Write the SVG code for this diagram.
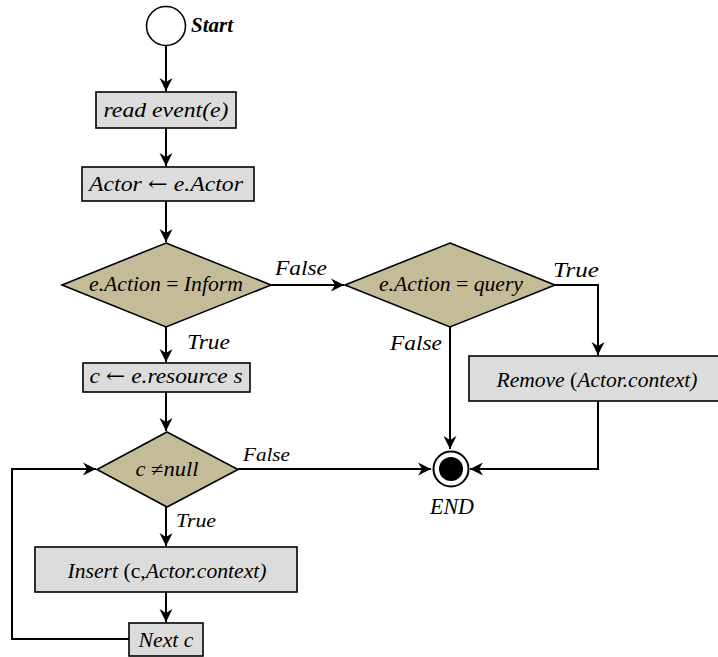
<svg xmlns="http://www.w3.org/2000/svg" width="718" height="657" viewBox="0 0 718 657">
<defs>
<marker id="arr" markerUnits="userSpaceOnUse" markerWidth="16" markerHeight="14" viewBox="-14 -7 16 14" refX="0" refY="0" orient="auto">
<path d="M-13,-6.5 L0,0 L-13,6.5 L-9,0 Z" fill="#000"/>
</marker>
</defs>
<style>
.t{font-family:"Liberation Serif","Times New Roman","DejaVu Serif",serif;font-style:italic;fill:#000}
.c{text-anchor:middle}
.rect{fill:#DCDCDC;stroke:#000;stroke-width:1.6}
.dia{fill:#C4BC98;stroke:#000;stroke-width:1.6}
.ln{fill:none;stroke:#000;stroke-width:2}
.ar{marker-end:url(#arr)}
.up{font-style:normal}
.sym{font-style:normal;font-family:"DejaVu Serif",serif}
</style>
<rect width="718" height="657" fill="#fff"/>
<g id="connectors">
<path class="ln ar" d="M166,46 V91"/>
<path class="ln ar" d="M166,128 V166"/>
<path class="ln ar" d="M166,201 V242"/>
<path class="ln ar" d="M271,285 H344"/>
<path class="ln ar" d="M166,327 V362"/>
<path class="ln ar" d="M166,392 V431"/>
<path class="ln ar" d="M555,285 H598 V355"/>
<path class="ln ar" d="M450,327 V449"/>
<path class="ln ar" d="M598,401 V469 H470"/>
<path class="ln ar" d="M238,469 H431"/>
<path class="ln ar" d="M166,507 V546"/>
<path class="ln ar" d="M166,592 V622"/>
<path class="ln ar" d="M129,639 H12 V469 H96"/>
</g>
<g id="start">
<circle cx="166" cy="26" r="19.5" fill="#fff" stroke="#000" stroke-width="1.6"/>
<text class="t" x="191" y="32" font-size="21" font-weight="bold" textLength="42" lengthAdjust="spacingAndGlyphs">Start</text>
</g>
<g id="read">
<rect class="rect" x="96" y="92" width="140" height="36"/>
<text class="t c" x="166" y="117" font-size="21" textLength="125" lengthAdjust="spacingAndGlyphs">read event(e)</text>
</g>
<g id="actor">
<rect class="rect" x="82" y="167" width="172" height="34"/>
<text class="t c" x="166" y="191" font-size="21" textLength="154" lengthAdjust="spacingAndGlyphs">Actor <tspan class="sym">←</tspan> e.Actor</text>
</g>
<g id="d1">
<polygon class="dia" points="166,243 271,285 166,327 62,285"/>
<text class="t c" x="166" y="291" font-size="21" textLength="154" lengthAdjust="spacingAndGlyphs">e.Action <tspan class="up">=</tspan> Inform</text>
</g>
<g id="d2">
<polygon class="dia" points="450,243 555,285 450,327 345,285"/>
<text class="t c" x="451" y="291" font-size="21" textLength="144" lengthAdjust="spacingAndGlyphs">e.Action <tspan class="up">=</tspan> query</text>
</g>
<g id="res">
<rect class="rect" x="83" y="363" width="167" height="29"/>
<text class="t c" x="166" y="383" font-size="21" textLength="153" lengthAdjust="spacingAndGlyphs">c <tspan class="sym">←</tspan> e.resource s</text>
</g>
<g id="d3">
<polygon class="dia" points="167,432 238,469.5 167,507 97,469.5"/>
<text class="t c" x="167" y="476" font-size="20" textLength="63" lengthAdjust="spacingAndGlyphs">c <tspan class="up">≠</tspan>null</text>
</g>
<g id="insert">
<rect class="rect" x="35" y="547" width="262" height="45"/>
<text class="t c" x="167" y="578" font-size="20" textLength="199" lengthAdjust="spacingAndGlyphs">Insert <tspan class="up">(c,</tspan>Actor.context)</text>
</g>
<g id="next">
<rect class="rect" x="129" y="623" width="74" height="33"/>
<text class="t c" x="166" y="647" font-size="21" textLength="55" lengthAdjust="spacingAndGlyphs">Next c</text>
</g>
<g id="remove">
<rect class="rect" x="469" y="356" width="258" height="45"/>
<text class="t c" x="597" y="387" font-size="20" textLength="201" lengthAdjust="spacingAndGlyphs">Remove <tspan class="up">(</tspan>Actor.context)</text>
</g>
<g id="end">
<circle cx="451" cy="469" r="17.5" fill="#fff" stroke="#000" stroke-width="2"/>
<circle cx="451" cy="469" r="12" fill="#000"/>
<text class="t c" x="452" y="514" font-size="24" textLength="44" lengthAdjust="spacingAndGlyphs">END</text>
</g>
<g id="labels">
<text class="t" x="275" y="275" font-size="21" textLength="52" lengthAdjust="spacingAndGlyphs">False</text>
<text class="t" x="187" y="349" font-size="21" textLength="43" lengthAdjust="spacingAndGlyphs">True</text>
<text class="t" x="553" y="277" font-size="21" textLength="46" lengthAdjust="spacingAndGlyphs">True</text>
<text class="t" x="390" y="350" font-size="21" textLength="52" lengthAdjust="spacingAndGlyphs">False</text>
<text class="t" x="243" y="461" font-size="19" textLength="47" lengthAdjust="spacingAndGlyphs">False</text>
<text class="t" x="176" y="527" font-size="19" textLength="40" lengthAdjust="spacingAndGlyphs">True</text>
</g>
</svg>
